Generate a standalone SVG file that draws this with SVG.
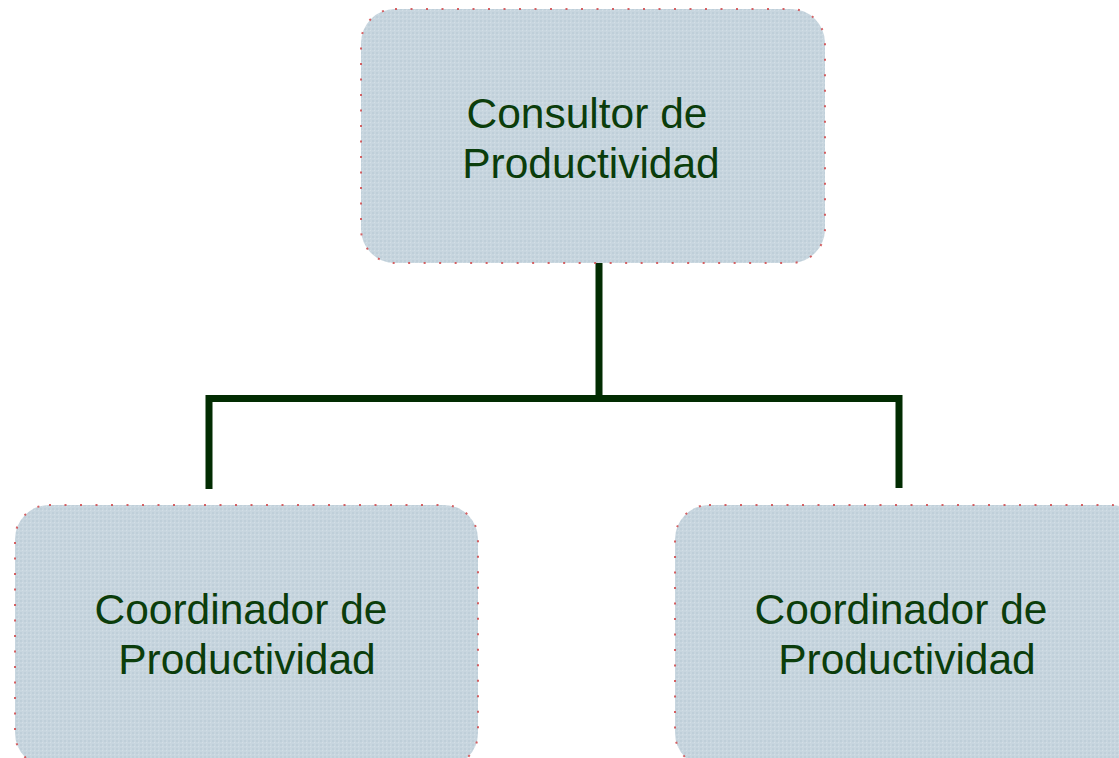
<svg xmlns="http://www.w3.org/2000/svg" width="1119" height="758" viewBox="0 0 1119 758">
<style>
.box{fill:url(#dots);stroke:#d0484a;stroke-width:2;stroke-dasharray:2 13.5;stroke-opacity:0.85}
.lbl{font-family:"Liberation Sans",Arial,sans-serif;font-size:42.5px;fill:#0b3d0b;text-anchor:middle}
.conn{fill:none;stroke:#022c02;stroke-width:7}
</style>
<defs>
<pattern id="dots" width="4" height="4" patternUnits="userSpaceOnUse">
<rect width="4" height="4" fill="#c8d6df"/>
<rect width="2" height="2" fill="#bfcfd9"/>
<rect x="2" y="2" width="1" height="1" fill="#d3dfe6"/>
</pattern>
</defs>
<rect width="1119" height="758" fill="#ffffff"/>
<g id="connectors">
<path class="conn" d="M599 263 V398.5"/>
<path class="conn" d="M209 489 V398.5 H899 V488"/>
</g>
<g id="node-top">
<rect class="box" x="361" y="9" width="464" height="254" rx="34"/>
<text class="lbl" x="587" y="128">Consultor de</text>
<text class="lbl" x="591" y="178">Productividad</text>
</g>
<g id="node-left">
<rect class="box" x="15" y="505" width="463" height="262" rx="34"/>
<text class="lbl" x="241" y="624">Coordinador de</text>
<text class="lbl" x="247" y="674">Productividad</text>
</g>
<g id="node-right">
<rect class="box" x="675" y="505" width="470" height="262" rx="34"/>
<text class="lbl" x="901" y="624">Coordinador de</text>
<text class="lbl" x="907" y="674">Productividad</text>
</g>
</svg>
